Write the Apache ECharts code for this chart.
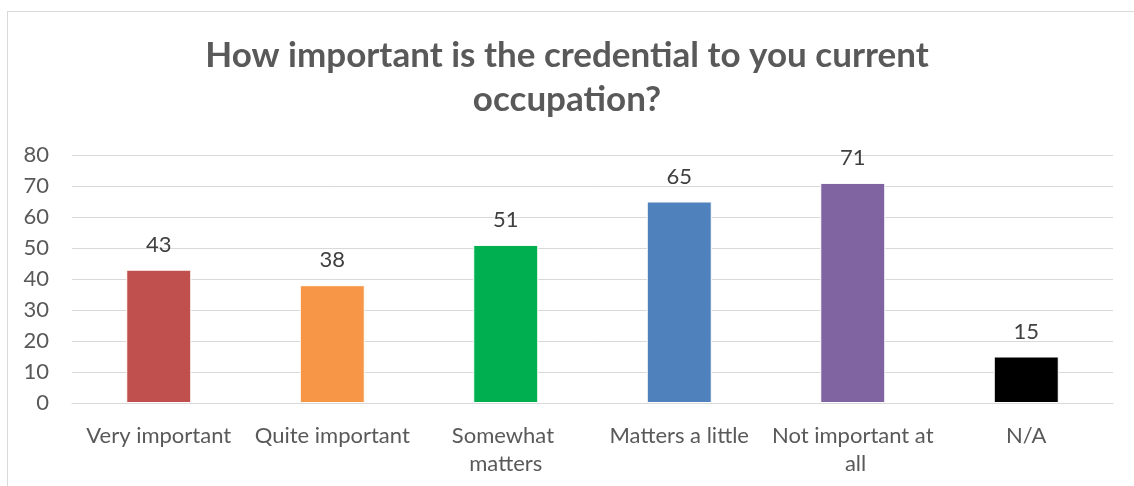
<!DOCTYPE html>
<html>
<head>
<meta charset="utf-8">
<script src="https://cdn.jsdelivr.net/npm/echarts@6/dist/echarts.min.js"></script>
<style>
  html, body { margin: 0; padding: 0; background: #fff; overflow: hidden; }
  #chart { position: absolute; left: 0; top: 0; width: 1134px; height: 486px; }
  #frame { position: absolute; left: 7px; top: 11px; width: 1200px; height: 600px;
           border: 1px solid #D9D9D9; pointer-events: none; }
</style>
</head>
<body>
<div id="frame"></div>
<div id="chart"></div>
<script>
// Survey responses per answer
const categories = ['Very important', 'Quite important', 'Somewhat matters', 'Matters a little', 'Not important at all', 'N/A'];
const counts = [43, 38, 51, 65, 71, 15];
const barColors = ['#C0504D', '#F79646', '#00B050', '#4F81BD', '#8064A2', '#000000'];
const yTicks = { min: 0, max: 80, interval: 10 };
const chartTitle = 'How important is the credential to you current\noccupation?';

const FONT = 'Lato, "Open Sans", sans-serif';

const chart = echarts.init(document.getElementById('chart'), null, { renderer: 'canvas' });
chart.setOption({
  backgroundColor: 'transparent',
  animation: false,
  title: {
    text: chartTitle,
    left: 'center',
    top: 29,
    textStyle: { fontFamily: FONT, fontSize: 35, fontWeight: 'bold', color: '#595959', lineHeight: 44 }
  },
  grid: { left: 72, right: 21, top: 155, bottom: 83, containLabel: false },
  xAxis: {
    type: 'category',
    data: categories,
    axisLine: { show: true, lineStyle: { color: '#D9D9D9', width: 1 } },
    axisTick: { show: false },
    axisLabel: {
      fontFamily: FONT, fontSize: 22, color: '#595959', margin: 19,
      lineHeight: 28, width: 168, overflow: 'break', interval: 0
    }
  },
  yAxis: {
    type: 'value',
    min: yTicks.min, max: yTicks.max, interval: yTicks.interval,
    axisLine: { show: false },
    axisTick: { show: false },
    axisLabel: { fontFamily: FONT, fontSize: 22, color: '#595959', margin: 23 },
    splitLine: { lineStyle: { color: '#D9D9D9', width: 1 } }
  },
  series: [{
    type: 'bar',
    data: counts.map((v, i) => ({ value: v, itemStyle: { color: barColors[i] } })),
    barWidth: 65,
    itemStyle: { borderColor: '#ffffff', borderWidth: 1 },
    label: {
      show: true, position: 'top', distance: 14,
      fontFamily: FONT, fontSize: 22, color: '#404040'
    }
  }]
});
</script>
</body>
</html>
